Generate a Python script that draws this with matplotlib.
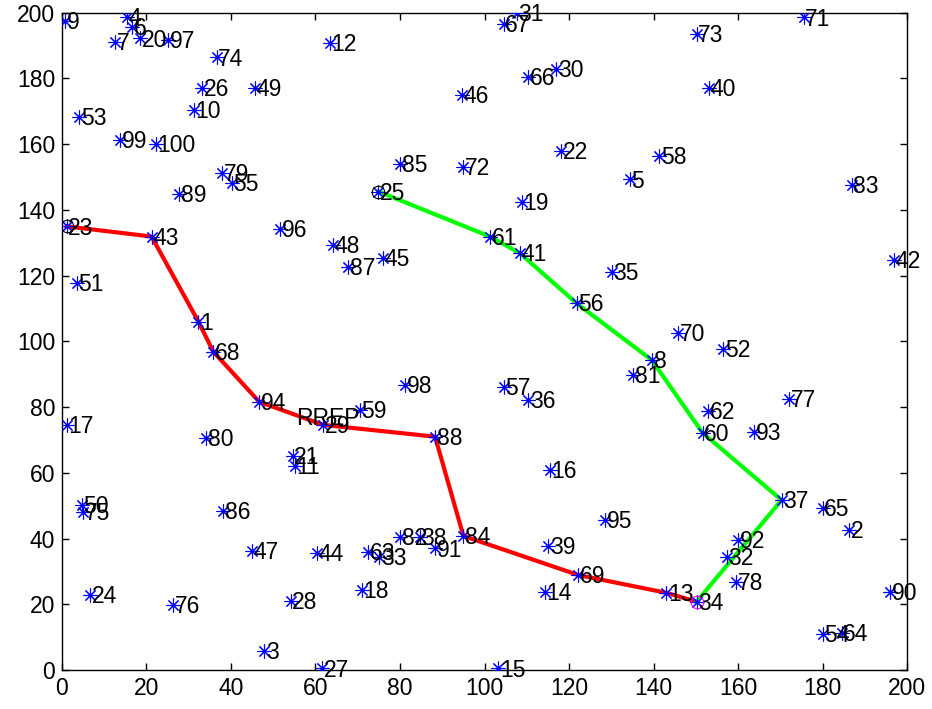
import numpy as np
import matplotlib
matplotlib.use('Agg')
import matplotlib.pyplot as plt

plt.rcParams['font.family'] = ['Liberation Sans', 'DejaVu Sans']

# node coordinates, node i is at index i-1
node_x = [32.3, 186.3, 47.9, 15.3, 134.4, 16.5, 12.5, 139.6, 0.7, 31.2,
          55.1, 63.4, 143.0, 114.3, 103.3, 115.5, 1.1, 70.9, 108.8, 18.5,
          54.6, 118.1, 1.1, 6.6, 74.9, 33.1, 61.5, 54.1, 61.8, 116.9,
          107.6, 157.3, 75.1, 150.2, 130.1, 110.4, 170.3, 84.7, 115.1, 153.1,
          108.4, 196.8, 21.2, 60.4, 76.0, 94.6, 44.9, 64.2, 45.7, 4.7,
          3.5, 156.5, 4.1, 180.0, 40.2, 121.8, 104.5, 141.4, 70.5, 151.6,
          101.3, 153.0, 72.5, 184.5, 180.0, 110.4, 104.5, 35.8, 122.2, 145.9,
          175.5, 95.0, 150.2, 36.6, 5.0, 26.3, 172.1, 159.5, 37.8, 34.2,
          135.2, 80.0, 186.9, 95.0, 80.0, 38.2, 67.8, 88.3, 27.8, 196.0,
          88.3, 160.1, 163.8, 46.7, 128.5, 51.6, 25.2, 81.2, 13.7, 22.2]
node_y = [106.0, 42.6, 5.9, 198.8, 149.3, 195.7, 191.2, 94.3, 197.6, 170.4,
          62.1, 190.7, 23.5, 23.8, 0.5, 60.9, 74.6, 24.3, 142.5, 192.2,
          65.1, 158.0, 135.0, 22.8, 145.6, 177.0, 0.5, 21.1, 74.6, 182.9,
          200.0, 34.5, 34.5, 20.8, 121.2, 82.2, 51.7, 40.6, 37.7, 177.0,
          126.8, 124.8, 131.9, 35.5, 125.3, 175.0, 36.2, 129.3, 177.2, 50.2,
          117.7, 97.6, 168.2, 11.0, 148.3, 111.6, 86.2, 156.4, 79.1, 72.2,
          131.9, 78.9, 36.0, 11.4, 49.2, 180.4, 196.6, 96.9, 28.9, 102.5,
          198.6, 153.2, 193.5, 186.4, 48.2, 19.8, 82.4, 26.9, 151.3, 70.5,
          89.8, 40.6, 147.6, 40.8, 154.0, 48.5, 122.7, 71.0, 144.9, 23.8,
          37.0, 39.6, 72.5, 81.6, 45.6, 134.1, 191.7, 86.7, 161.3, 160.1]

red_path = [23, 43, 1, 68, 94, 29, 88, 84, 69, 13, 34]
green_path = [25, 61, 41, 56, 8, 60, 37, 34]
sources = [23, 25]
destination = 34
msg_label = "RREP"
msg_pos = (55.5, 76.6)

node_x = np.array(node_x)
node_y = np.array(node_y)

fig = plt.figure(figsize=(9.32, 7.09), dpi=100)
ax = fig.add_axes([0.0665, 0.055, 0.9067, 0.927])

# paths
rp = np.array(red_path) - 1
gp = np.array(green_path) - 1
ax.plot(node_x[rp], node_y[rp], color='red', linewidth=3, zorder=2)
ax.plot(node_x[gp], node_y[gp], color='#00ff00', linewidth=3, zorder=2)

# nodes
ax.plot(node_x, node_y, linestyle='none', marker=(8, 2, 0), markersize=10,
        markeredgewidth=0.8, color='blue', zorder=3)
for i in range(len(node_x)):
    ax.text(node_x[i] + 0.4, node_y[i] - 0.5, str(i + 1), fontsize=16.5,
            ha='left', va='center', zorder=4)

s = np.array(sources) - 1
ax.plot(node_x[s], node_y[s], linestyle='none', marker='o', markersize=9,
        markerfacecolor='none', markeredgecolor='black', markeredgewidth=0.8, zorder=3)
ax.plot(node_x[destination - 1], node_y[destination - 1], linestyle='none',
        marker='o', markersize=9, markerfacecolor='none',
        markeredgecolor='magenta', markeredgewidth=0.8, zorder=3)

ax.text(msg_pos[0], msg_pos[1], msg_label, fontsize=16.5, ha='left',
        va='center', zorder=4)

ax.set_xlim(0, 200)
ax.set_ylim(0, 200)
ax.set_xticks(np.arange(0, 201, 20))
ax.set_yticks(np.arange(0, 201, 20))
ax.tick_params(direction='in', length=5, width=1, top=True, right=True,
               labelsize=16.5, pad=5)
for sp in ax.spines.values():
    sp.set_linewidth(1)

fig.savefig('out.png', dpi=100)
